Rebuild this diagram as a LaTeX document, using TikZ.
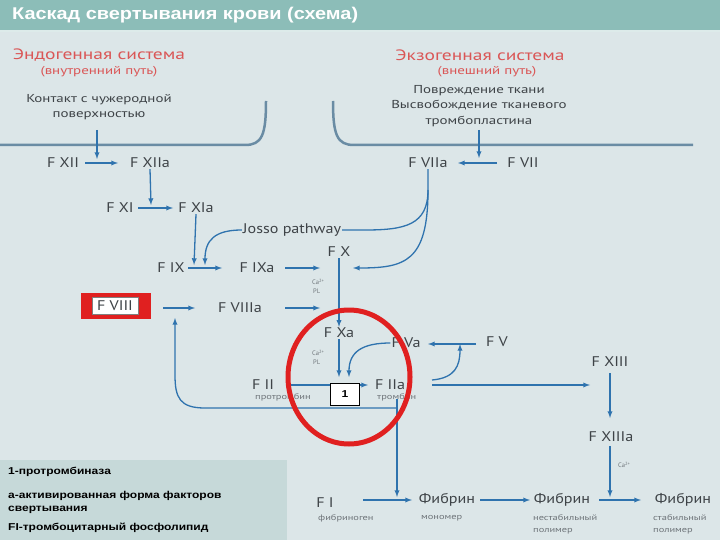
\documentclass[tikz,border=0pt]{standalone}
\usepackage{fontspec}
\setmainfont{PT Sans}
\newfontfamily\widefont[FakeStretch=1.3]{PT Sans}
\newfontfamily\facfont[FakeStretch=1.15]{PT Sans}
\newfontfamily\legendfont[FakeStretch=1.2]{Liberation Sans}
\newfontfamily\titlefont[FakeStretch=1.17]{Liberation Sans}
\usetikzlibrary{calc, positioning}

\definecolor{bgcol}{HTML}{DCE6E8}
\definecolor{barcol}{HTML}{8CBDB8}
\definecolor{headred}{HTML}{DA5656}
\definecolor{factext}{HTML}{3E4347}
\definecolor{subtext}{HTML}{6E7479}
\definecolor{arrcol}{HTML}{2F73AE}
\definecolor{linecol}{HTML}{6A8CA4}
\definecolor{legendcol}{HTML}{C6D9D9}
\definecolor{boxred}{HTML}{E02020}

\tikzset{
  fac/.style={text=factext, font=\facfont\fontsize{14}{14}\selectfont, inner sep=1pt},
  fib/.style={text=factext, font=\facfont\fontsize{14}{14}\selectfont, inner sep=1pt},
  sub/.style={text=subtext, font=\widefont\fontsize{8}{12}\selectfont, inner sep=0pt, align=left, anchor=west},
  tiny/.style={text=subtext, font=\fontsize{6.5}{6.5}\selectfont, inner sep=0pt, anchor=west},
  head/.style={text=headred, font=\widefont\fontsize{15}{15}\selectfont, inner sep=0pt},
  headsub/.style={text=headred, font=\widefont\fontsize{11.5}{11.5}\selectfont, inner sep=0pt},
  plain/.style={text=factext, font=\widefont\fontsize{11.5}{15.5}\selectfont, inner sep=0pt, align=center},
  arr/.style={->, draw=arrcol, line width=1.3pt},
  line/.style={draw=arrcol, line width=1.3pt},
  border/.style={draw=linecol, line width=2.5pt},
  legend/.style={font=\legendfont\bfseries\fontsize{10}{13}\selectfont, inner sep=0pt, anchor=west, align=left}
}

\begin{document}
\begin{tikzpicture}[x=1pt, y=-1pt, >=latex]
  \useasboundingbox (0,0) rectangle (720,540);
  \fill [bgcol] (0,0) rectangle (720,540);
  \fill [barcol] (0,0) rectangle (720,30);
  \fill [white!70!barcol] (0,30) rectangle (720,32);
  \node (title) at (12,15) [anchor=west, text=white, inner sep=0pt,
    font=\titlefont\bfseries\fontsize{17}{17}\selectfont] {Каскад свертывания крови (схема)};

  % headings
  \node (endo) at (99,55) [head] {Эндогенная система};
  \node (endosub) at (99,72) [headsub] {(внутренний путь)};
  \node (contact) at (99,107) [plain] {Контакт с чужеродной\\поверхностью};
  \node (exo) at (480,55) [head] {Экзогенная система};
  \node (exosub) at (487,72) [headsub] {(внешний путь)};
  \node (damage) at (479,106) [plain] {Повреждение ткани\\Высвобождение тканевого\\тромбопластина};

  \draw [border] (0,145) -- (245,145) .. controls (262,145) and (266,135) .. (266,101);
  \draw [border] (333,101) .. controls (333,135) and (337,145) .. (354,145) -- (693,145);

  % factors
  \node (fxii) at (63,163) [fac] {F XII};
  \node (fxiia) at (150,163) [fac] {F XIIa};
  \node (fxi) at (120,208) [fac] {F XI};
  \node (fxia) at (196,208) [fac] {F XIa};
  \node (fix) at (171,268) [fac] {F IX};
  \node (fixa) at (257,268) [fac] {F IXa};
  \node (fx) at (339,252) [fac] {F X};
  \node (fviia) at (428,163) [fac] {F VIIa};
  \node (fvii) at (523,163) [fac] {F VII};
  \node (josso) at (292,230) [fac] {Josso pathway};
  \fill [boxred] (81,293) rectangle (151,319);
  \node (fviii) at (115,306) [fac, fill=white, draw=gray, minimum width=46, minimum height=17] {F VIII};
  \node (fviiia) at (240,308) [fac] {F VIIIa};
  \node (fxa) at (339,333) [fac] {F Xa};
  \node (fva) at (406,343) [fac] {F Va};
  \node (fv) at (497,342) [fac] {F V};
  \node (fii) at (263,385) [fac] {F II};
  \node (fiia) at (390,385) [fac] {F IIa};
  \node (fxiii) at (610,362) [fac] {F XIII};
  \node (fxiiia) at (611,437) [fac] {F XIIIa};
  \node (fi) at (325,503) [fac] {F I};
  \node (mono) at (447,500) [fib] {Фибрин};
  \node (unst) at (562,500) [fib] {Фибрин};
  \node (stab) at (683,500) [fib] {Фибрин};

  % small captions
  \node at (255,397) [sub] {протромбин};
  \node at (377,397) [sub] {тромбин};
  \node at (318,518) [sub] {фибриноген};
  \node at (421,518) [sub] {мономер};
  \node at (533,524) [sub] {нестабильный\\полимер};
  \node at (653,524) [sub] {стабильный\\полимер};
  \node at (312,282) [tiny] {Ca\textsuperscript{2+}};
  \node at (313,291) [tiny] {PL};
  \node at (312,353) [tiny] {Ca\textsuperscript{2+}};
  \node at (313,362) [tiny] {PL};
  \node at (618,465) [tiny] {Ca\textsuperscript{2+}};

  % free ends
  \coordinate (fxline) at (339,268);
  \coordinate (fxline2) at (339,308);
  \coordinate (split) at (428,190);
  \coordinate (fvline) at (460,344);
  \coordinate (loop) at (397,408);

  % intrinsic
  \draw [arr] (97,130) -- (97,159);
  \draw [arr] ($(fxiia)+(-65,0)$) -- ($(fxiia)+(-32,0)$);
  \draw [arr] (fxiia.south) -- (151,205);
  \draw [arr] ($(fxia)+(-58,0)$) -- ($(fxia)+(-23,0)$);
  \draw [arr] (fxia.south) -- (194,265);
  \draw [arr] (josso.west) .. controls (215,230) and (205,240) .. (205,265);
  \draw [arr] ($(fixa)+(-69,0)$) -- ($(fixa)+(-35,0)$);
  \draw [arr] ($(fxline)+(-54,0)$) -- ($(fxline)+(-19,0)$);
  \draw [arr] ($(fviiia)+(-77,0)$) -- ($(fviiia)+(-45,0)$);
  \draw [arr] ($(fxline2)+(-54,0)$) -- ($(fxline2)+(-19,0)$);

  % extrinsic
  \draw [arr] (479,130) -- (479,158);
  \draw [arr] ($(fviia)+(69,0)$) -- ($(fviia)+(30,0)$);
  \draw [line] (fviia.south) -- (split) .. controls (428,225) and (405,230) .. (365,230) -- (josso.east);
  \draw [arr] (split) .. controls (428,262) and (405,268) .. ($(fxline)+(14,0)$);

  % common
  \draw [line] (fx.south) -- (fxline2);
  \draw [arr] (fxline2) -- (fxa.north);
  \draw [arr] (fxa.south) -- (339,377);
  \draw [arr] (fva.west) .. controls (362,343) and (349,352) .. (349,377);
  \draw [arr] ($(fva)+(70,1)$) -- ($(fva)+(22,1)$);
  \draw [arr] ($(fiia)+(-99,0)$) -- ($(fiia)+(-22,0)$);
  \node (prothr) at (345,394) [draw=black, fill=white, minimum width=29, minimum height=22, inner sep=0pt,
    font=\legendfont\bfseries\fontsize{10}{10}\selectfont] {1};
  \draw [arr] (432,380) .. controls (455,378) and (460,366) .. (fvline);
  \draw [arr] ($(fiia)+(42,0)$) -- ($(fxiii)+(-20,23)$);
  \draw [arr] (fxiii.south) ++(0,5) -- (610,418);
  \draw [arr] (fxiiia.south) ++(-1,3) -- (610,497);
  \draw [line] (fiia.south) ++(7,8) -- (loop);
  \draw [arr] (loop) -- (397,497);
  \draw [arr] (loop) -- (205,408) .. controls (180,408) and (175,398) .. (175,375) -- (175,318);

  % fibrin
  \draw [arr] ($(mono)+(-84,0)$) -- ($(mono)+(-35,0)$);
  \draw [arr] ($(unst)+(-82,0)$) -- ($(unst)+(-32,0)$);
  \draw [arr] ($(stab)+(-84,0)$) -- ($(stab)+(-42,0)$);

  % highlight
  \draw [boxred, line width=5pt] (349,377) ellipse [x radius=61, y radius=67];

  % legend
  \fill [legendcol] (0,460) rectangle (287,540);
  \node (leg1) at (8,472) [legend] {1-протромбиназа};
  \node (leg2) at (8,502) [legend] {а-активированная форма факторов\\свертывания};
  \node (leg3) at (8,528) [legend] {FI-тромбоцитарный фосфолипид};
\end{tikzpicture}
\end{document}
